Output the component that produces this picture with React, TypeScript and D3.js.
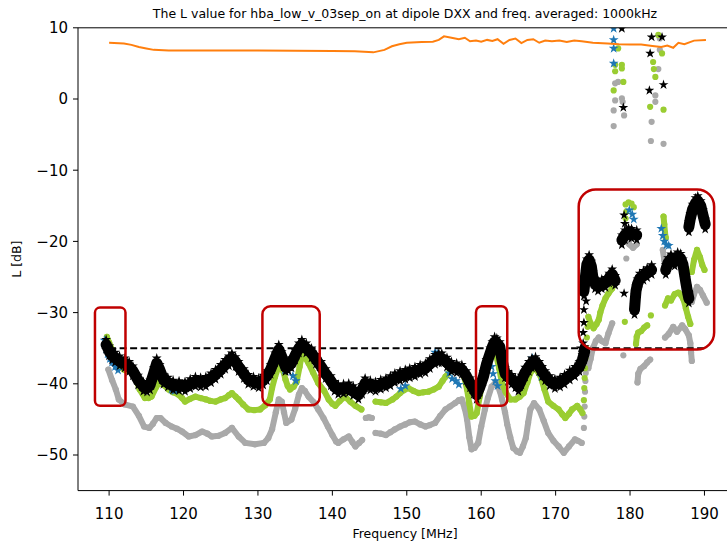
import React from "react";
import * as d3 from "d3";

type Pt = [number, number];

const chartTitle = "The L value for hba_low_v_03sep_on at dipole DXX and freq. averaged: 1000kHz";
const xLabel = "Frequency [MHz]";
const yLabel = "L [dB]";
const xTickValues = [110, 120, 130, 140, 150, 160, 170, 180, 190];
const yTickValues = [-50, -40, -30, -20, -10, 0, 10];
const xDomain: [number, number] = [105.82, 193.7];
const yDomain: [number, number] = [-55, 10];

// dashed reference level
const thresholdLevel = -35;
const thresholdSpan: [number, number] = [110, 190];

// orange curve (freq, L)
const orangeLine: Pt[] = [
  [110, 7.9], [112, 7.8], [113, 7.6], [114, 7.3], [115, 7.1], [116, 6.9], [118, 6.8], [130, 6.8],
  [140, 6.75], [143, 6.7], [145.5, 6.55], [147, 6.9], [148, 7.4], [149, 7.7], [150, 7.9], [152, 8.0],
  [153.5, 8.05], [154.3, 8.3], [155, 8.8], [156, 8.6], [157, 8.4], [157.8, 8.6], [158.5, 8.1],
  [159.3, 8.2], [160, 8.05], [160.8, 8.3], [161.5, 8.15], [162.2, 8.4], [163, 7.75], [163.8, 8.3],
  [164.6, 8.5], [165.4, 7.85], [166.2, 8.3], [167, 8.4], [167.8, 7.9], [168.6, 8.2], [169.5, 8.1],
  [170.5, 8.2], [171.5, 8.0], [172.5, 8.2], [173.5, 8.1], [175, 7.9], [177, 7.8], [178.5, 7.7],
  [180, 7.65], [181.5, 7.65], [183, 7.45], [184.2, 7.3], [185, 7.5], [185.8, 7.2], [186.5, 7.9],
  [187.3, 7.7], [188.6, 8.2], [190.2, 8.3],
];

// gray dots
const grayChains: Pt[][] = [
  [
    [109.9, -38.0], [110.4, -39.5], [110.9, -40.8], [111.3, -42.2], [112.1, -42.9], [113.2, -43.2],
    [114.0, -44.5], [114.7, -46.0], [115.4, -46.2], [115.9, -45.6], [116.4, -44.8], [116.9, -44.8],
    [117.6, -45.5], [118.4, -46.0], [119.1, -46.3], [119.8, -46.7], [120.7, -47.4], [121.6, -47.2],
    [122.5, -46.7], [123.2, -47.0], [123.8, -47.4], [124.7, -47.3], [125.6, -46.9], [126.5, -46.2],
    [127.4, -47.4], [128.3, -48.3], [129.6, -48.5], [130.8, -48.3], [131.4, -47.6], [131.9, -46.4],
    [132.4, -44.0], [132.8, -42.2], [133.2, -42.5], [133.5, -44.0], [133.8, -45.5], [134.5, -45.0],
    [135.0, -43.5], [135.5, -41.5], [135.9, -40.6], [136.3, -41.0], [136.8, -41.8], [137.5, -42.6],
    [138.1, -43.6], [138.8, -44.8], [139.4, -46.0], [140.0, -47.2], [140.5, -48.1], [140.8, -48.3],
    [141.5, -47.8], [142.2, -47.4], [142.7, -48.2], [143.1, -48.8], [143.6, -48.3], [144.0, -47.9],
  ],
  [[144.5, -44.8], [144.9, -44.7], [145.3, -44.8]],
  [
    [145.8, -46.9], [146.5, -47.0], [147.2, -47.2], [147.8, -46.8], [148.4, -46.4], [149.1, -46.0],
    [149.8, -45.7], [150.4, -45.4], [151.1, -45.3], [151.8, -45.7], [152.5, -46.0], [153.1, -45.8],
    [153.8, -45.5], [154.5, -44.5], [155.2, -43.6], [155.8, -43.2], [156.5, -42.7], [157.0, -42.3],
    [157.4, -42.2], [157.8, -43.5], [158.1, -45.0], [158.4, -47.5], [158.7, -49.2], [159.1, -49.0],
    [159.6, -48.3], [160.0, -46.0], [160.5, -43.6], [160.9, -42.0], [161.4, -40.4], [161.8, -40.0],
    [162.1, -40.0], [162.5, -41.0], [162.8, -42.2], [163.2, -44.0], [163.5, -45.7], [163.9, -47.5],
    [164.3, -49.0], [164.8, -49.5], [165.2, -49.7], [165.6, -48.8], [166.0, -47.6], [166.3, -45.5],
    [166.6, -43.6], [167.1, -42.7], [167.8, -43.6], [168.4, -45.2], [169.0, -46.9], [169.7, -48.0],
    [170.4, -48.8], [171.1, -49.7], [171.8, -48.8], [172.6, -47.8], [173.0, -48.0], [173.5, -48.3],
  ],
  [[174.4, -37.8], [174.7, -36.5], [175.0, -35.0], [175.4, -34.0], [175.8, -33.5], [176.2, -34.0], [176.7, -34.3], [177.1, -32.9], [177.6, -31.5]],
  [[181.0, -39.8], [181.1, -38.6], [181.4, -37.9], [181.9, -37.5], [182.3, -37.0], [182.7, -36.6]],
  [[179.5, -19.6], [179.9, -20.4], [180.4, -20.9], [180.9, -20.4]],
  [[184.4, -21.2], [184.6, -22.6], [184.8, -23.9]],
  [[184.7, -33.5], [185.2, -33.0], [185.8, -32.0], [186.3, -32.7], [187.0, -31.8], [187.4, -32.3], [187.9, -33.2], [188.1, -34.3], [188.2, -35.6], [188.3, -36.8]],
  [[188.3, -28.5], [188.6, -27.4], [189.0, -26.4], [189.4, -26.8], [189.8, -27.6], [190.3, -28.6]],
];
const grayDots: Pt[] = [
  [173.8, -46.2], [173.85, -44.6], [173.9, -43.2], [173.95, -41.1], [174.0, -39.6], [174.05, -38.5],
  [174.15, -36.9], [179.1, -36.0], [179.5, -22.4],
  [178.4, 2.4], [178.0, 2.2], [178.0, -0.2], [177.8, -1.6], [178.9, 0.1], [179.0, -0.4], [179.2, -2.3],
  [177.8, -3.8], [184.0, 8.5], [184.0, 6.9], [183.8, 4.2], [183.4, 0.5], [183.4, -0.4], [182.9, -3.2],
  [182.8, -5.9], [184.5, -6.3],
];

// green dots
const greenChains: Pt[][] = [
  [
    [109.7, -33.4], [110.0, -34.2], [110.4, -35.2], [110.8, -36.3], [111.2, -37.0], [111.5, -37.6],
    [112.0, -38.0], [112.4, -38.2], [113.1, -38.2], [113.6, -39.3], [114.1, -40.8], [114.8, -42.0],
    [115.3, -42.0], [115.7, -41.8], [116.3, -40.5], [116.8, -39.7], [117.4, -40.2], [118.0, -40.8],
    [118.6, -41.2], [119.3, -41.5], [119.8, -42.0], [120.2, -42.5], [120.9, -42.1], [121.6, -41.8],
    [122.3, -42.0], [123.0, -42.2], [123.6, -42.4], [124.3, -42.5], [125.0, -42.2], [125.6, -42.0],
    [126.1, -41.6], [126.5, -41.3], [127.0, -41.8], [127.4, -42.2], [128.0, -42.9], [128.7, -43.6],
    [129.5, -43.7], [130.3, -43.6], [131.0, -43.0], [131.6, -42.2], [131.9, -40.6], [132.3, -39.0],
    [132.7, -37.8], [133.0, -37.3], [133.4, -38.2], [133.7, -39.4], [134.0, -40.3], [134.3, -40.8],
    [134.8, -40.4], [135.2, -39.7], [135.6, -37.6], [135.9, -35.9], [136.3, -36.3], [136.8, -37.1],
    [137.4, -38.4], [138.1, -39.9], [138.9, -41.0], [139.5, -42.2], [140.0, -42.8], [140.4, -43.1],
    [141.0, -42.4], [141.7, -41.8], [142.4, -42.5], [143.1, -43.1], [143.9, -43.6],
  ],
  [[144.4, -40.0], [144.8, -39.8], [145.3, -40.0]],
  [
    [145.8, -42.5], [146.5, -42.6], [147.2, -42.7], [148.1, -42.2], [148.6, -41.8], [149.1, -41.3],
    [149.6, -40.9], [150.2, -40.6], [150.9, -41.0], [151.6, -41.3], [152.2, -41.2], [152.9, -41.1],
    [153.6, -40.8], [154.3, -40.4], [154.8, -39.6], [155.2, -39.0], [155.6, -38.5], [156.0, -38.0],
    [156.6, -37.9], [157.2, -37.8], [157.7, -39.0], [158.1, -40.8], [158.4, -42.8], [158.7, -44.6],
    [159.1, -44.5], [159.4, -44.1], [159.8, -41.8], [160.3, -39.0], [160.8, -37.0], [161.4, -35.2],
    [161.7, -35.3], [162.0, -35.9], [162.4, -37.8], [162.8, -39.9], [163.3, -41.2], [163.9, -42.2],
    [164.6, -42.2], [165.2, -41.8], [165.7, -41.3], [166.2, -39.8], [166.6, -38.5], [167.0, -37.9],
    [167.3, -37.8], [168.0, -39.0], [168.5, -40.8], [169.0, -42.5], [169.7, -43.1], [170.4, -43.6],
    [170.9, -44.3], [171.3, -44.8], [171.8, -44.2], [172.2, -43.6], [172.9, -43.1], [173.3, -43.6],
    [173.6, -44.1],
  ],
  [[174.4, -30.6], [174.7, -31.5], [175.1, -32.2], [175.5, -31.6], [175.8, -31.0], [176.0, -30.0], [176.3, -29.0], [176.7, -28.0], [177.1, -27.3], [177.6, -26.6]],
  [[180.8, -34.4], [180.9, -33.4], [181.1, -32.8], [181.5, -32.6], [181.9, -32.1], [182.3, -31.8]],
  [[184.5, -16.5], [184.6, -17.6], [184.7, -18.8], [184.8, -19.5]],
  [[184.7, -29.0], [185.1, -28.0], [185.5, -28.3], [186.0, -27.4], [186.5, -27.2], [186.9, -27.6], [187.2, -28.2], [187.5, -29.4], [187.8, -30.6], [188.1, -31.6]],
  [[188.3, -24.3], [188.6, -22.6], [189.0, -21.2], [189.4, -22.2], [189.7, -23.3], [190.0, -24.0]],
];
const greenDots: Pt[] = [
  [173.8, -42.3], [173.85, -40.6], [173.9, -39.2], [173.95, -37.8], [174.0, -36.4], [174.1, -35.0],
  [174.2, -33.5], [174.3, -32.0], [179.3, -31.3], [182.8, -30.4],
  [179.4, -14.8], [179.8, -14.5], [180.2, -14.7], [180.5, -15.2], [179.5, -15.8], [179.4, -16.8],
  [178.4, 7.1], [178.0, 4.8], [178.9, 4.8], [178.9, 4.3], [178.0, 3.9], [179.1, 2.4], [177.8, 1.2],
  [183.8, 9.0], [183.1, 5.2], [183.2, 4.2], [183.4, 3.1], [184.3, 6.4], [182.7, -1.1], [184.5, -1.5],
];

// blue stars
const blueStars: Pt[] = [
  [109.4, -33.9], [109.6, -34.9], [109.8, -35.8], [110.1, -36.5], [110.4, -37.0], [110.8, -37.6],
  [111.2, -38.1], [118.4, -40.8], [118.8, -41.0], [119.3, -40.8], [119.7, -40.7], [133.0, -36.0],
  [133.3, -37.1], [133.6, -38.1], [134.7, -38.9], [135.1, -39.6], [149.2, -40.7], [149.8, -40.3],
  [153.8, -35.6], [154.1, -35.8], [155.7, -38.5], [156.1, -39.3], [156.6, -39.6], [157.0, -40.1],
  [161.1, -36.6], [161.4, -37.6], [161.6, -38.6], [161.9, -39.6], [162.2, -40.3], [166.9, -36.4],
  [168.1, -39.0],
  [179.9, -15.6], [180.3, -16.2], [180.5, -16.9],
  [184.2, -18.2], [184.4, -19.2], [184.6, -20.0], [184.9, -20.5], [185.2, -20.6],
  [177.8, 9.9], [177.8, 8.3], [177.8, 7.1], [177.8, 5.0],
];

// black stars
const blackChains: Pt[][] = [
  [
    [109.6, -34.5], [110.0, -35.4], [110.4, -36.0], [110.8, -36.3], [111.4, -36.8], [112.1, -37.1],
    [112.7, -37.6], [113.2, -38.2], [113.9, -39.5], [114.6, -40.4], [115.1, -40.5], [115.5, -40.2],
    [116.0, -38.5], [116.4, -37.1], [116.8, -38.0], [117.3, -39.4], [117.9, -39.8], [118.6, -40.2],
    [119.4, -40.3], [120.2, -40.4], [120.9, -40.0], [121.6, -39.7], [122.3, -39.8], [123.0, -39.7],
    [123.7, -39.2], [124.3, -38.7], [125.0, -38.0], [125.6, -37.3], [126.1, -36.8], [126.5, -36.4],
    [127.0, -36.9], [127.4, -37.6], [128.1, -38.6], [128.7, -39.4], [129.4, -39.7], [130.1, -39.9],
    [130.7, -39.5], [131.2, -38.9], [131.7, -38.0], [132.3, -36.4], [132.8, -35.2], [133.2, -36.2],
    [133.7, -37.6], [134.1, -37.5], [134.5, -37.1], [135.0, -36.0], [135.5, -35.0], [135.9, -34.5],
    [136.5, -35.0], [137.2, -35.7], [137.8, -36.6], [138.5, -37.6], [139.1, -38.6], [139.8, -39.6],
    [140.3, -40.4], [140.8, -40.8], [141.5, -40.7], [142.2, -40.6], [142.8, -41.0], [143.5, -41.5],
    [144.0, -40.8], [144.4, -39.9], [145.1, -40.2], [145.8, -40.4], [146.5, -40.1], [147.2, -39.9],
    [147.8, -39.6], [148.4, -39.2], [149.1, -38.9], [149.8, -38.7], [150.4, -38.5], [151.1, -38.3],
    [151.8, -38.0], [152.5, -37.8], [153.1, -37.2], [153.8, -36.6], [154.3, -36.4], [154.7, -36.4],
    [155.4, -37.0], [156.0, -37.6], [156.7, -37.8], [157.4, -38.0], [158.0, -38.9], [158.5, -39.9],
    [159.0, -40.8], [159.4, -41.5], [159.8, -40.5], [160.3, -39.0], [160.7, -37.3], [161.2, -35.7],
    [161.5, -34.8], [161.8, -34.1], [162.1, -34.3], [162.5, -34.8], [162.8, -36.7], [163.2, -38.5],
    [163.6, -39.0], [164.1, -39.4], [164.6, -39.9], [165.0, -40.4], [165.4, -39.5], [165.9, -38.4],
    [166.4, -37.6], [166.8, -37.1], [167.3, -36.9], [167.8, -37.6], [168.2, -38.3], [168.6, -38.9],
    [169.2, -39.6], [169.9, -40.0], [170.6, -39.8], [171.2, -39.4], [171.9, -38.8], [172.6, -38.3],
    [173.2, -37.6], [173.6, -36.6], [173.9, -35.5],
  ],
  [[173.8, -27.0], [174.0, -25.0], [174.2, -23.2], [174.5, -22.6], [174.8, -23.5], [175.0, -25.0], [175.3, -26.0], [175.7, -26.3], [176.2, -26.0], [176.7, -25.8], [177.2, -25.2], [177.6, -24.6], [178.0, -25.5]],
  [[180.6, -29.6], [180.7, -28.2], [180.8, -27.0], [181.0, -26.0], [181.3, -25.2], [181.8, -24.8], [182.3, -24.4], [182.9, -24.0]],
  [[184.8, -24.0], [185.1, -23.0], [185.5, -22.5], [186.0, -22.8], [186.4, -22.2], [186.8, -22.4], [187.1, -23.2], [187.3, -24.5], [187.5, -25.8], [187.7, -27.0], [187.9, -28.0]],
  [[187.9, -18.0], [188.1, -16.8], [188.4, -15.5], [188.8, -14.6], [189.1, -14.3], [189.5, -15.0], [189.8, -16.3], [190.1, -17.6]],
  [[178.9, -19.8], [179.3, -19.1], [179.8, -18.8], [180.2, -18.9], [180.9, -19.1]],
];
const blackStars: Pt[] = [
  [173.4, -35.0], [173.7, -34.3], [173.7, -32.8], [173.8, -31.4], [173.8, -29.6], [174.1, -28.4],
  [179.2, -27.3], [179.2, -16.3], [179.3, -17.5],
  [178.9, 9.9], [179.1, -1.2], [182.9, 8.7], [184.3, 8.7], [182.7, 6.4], [184.5, 2.0], [182.6, 1.2],
];

// highlighted regions (freq range, level range)
const boxFreqs: Pt[] = [[108.1, 112.2], [130.6, 138.3], [159.3, 163.5], [173.1, 191.3]];
const boxLevels: Pt[] = [[-29.3, -43.1], [-29.1, -43.0], [-29.1, -43.1], [-12.7, -35.2]];
const boxRadii = [5, 8, 6, 17];

export default function App() {
  const width = 727;
  const height = 545;
  const left = 78;
  const right = 732;
  const top = 27.8;
  const bottom = 490.6;
  const font = "DejaVu Sans, sans-serif";

  const x = d3.scaleLinear().domain(xDomain).range([left, right]);
  const y = d3.scaleLinear().domain(yDomain).range([bottom, top]);
  const line = d3.line<Pt>().x((d) => x(d[0])).y((d) => y(d[1]));
  const star = d3.symbol().type(d3.symbolStar).size(30)() as string;
  const starOffsets = [-5, 0, 5];

  const dotColor = { gray: "#a9a9a9", green: "#9acd32" };

  const dotSeries = (chains: Pt[][], dots: Pt[], color: string, key: string) => (
    <g key={key}>
      {chains.map((c, i) => (
        <path key={i} d={line(c) ?? ""} fill="none" stroke={color} strokeWidth={6}
          strokeLinejoin="round" strokeLinecap="round" />
      ))}
      {chains.flat().concat(dots).map((d, i) => (
        <circle key={i} cx={x(d[0])} cy={y(d[1])} r={3.1} fill={color} />
      ))}
    </g>
  );

  return (
    <svg width={width} height={height} style={{ position: "absolute", left: 0, top: 0, background: "#fff" }}>
      <defs>
        <clipPath id="plotclip">
          <rect x={left} y={top} width={right - left} height={bottom - top} />
        </clipPath>
      </defs>
      <rect x={0} y={0} width={width} height={height} fill="#fff" />

      <g clipPath="url(#plotclip)">
        {dotSeries(grayChains, grayDots, dotColor.gray, "gray")}
        {dotSeries(greenChains, greenDots, dotColor.green, "green")}

        <g fill="#1f77b4">
          {blueStars.map((d, i) => (
            <path key={i} d={star} transform={`translate(${x(d[0])},${y(d[1])})`} />
          ))}
        </g>

        <g>
          {blackChains.map((c, i) => (
            <path key={i} d={line(c) ?? ""} fill="none" stroke="#000" strokeWidth={11}
              strokeLinejoin="round" strokeLinecap="round" />
          ))}
          {blackChains.flat().flatMap((d, i) =>
            starOffsets.map((o, j) => (
              <path key={`${i}-${j}`} d={star} fill="#000"
                transform={`translate(${x(d[0])},${y(d[1]) + o})`} />
            ))
          )}
          {blackStars.map((d, i) => (
            <path key={`s${i}`} d={star} fill="#000" transform={`translate(${x(d[0])},${y(d[1])})`} />
          ))}
        </g>

        <path d={line(orangeLine) ?? ""} fill="none" stroke="#ff7f0e" strokeWidth={2} />

        <line x1={x(thresholdSpan[0])} x2={x(thresholdSpan[1])} y1={y(thresholdLevel)} y2={y(thresholdLevel)}
          stroke="#000" strokeWidth={2} strokeDasharray="7,3.5" />

        {boxFreqs.map((f, i) => (
          <rect key={i} x={x(f[0])} y={y(boxLevels[i][0])} width={x(f[1]) - x(f[0])}
            height={y(boxLevels[i][1]) - y(boxLevels[i][0])} rx={boxRadii[i]} ry={boxRadii[i]}
            fill="none" stroke="#c00000" strokeWidth={2.5} />
        ))}
      </g>

      {/* spines */}
      <path d={`M${right},${top}H${left}V${bottom}H${right}`} fill="none" stroke="#000" strokeWidth={1} />

      {/* x axis */}
      {xTickValues.map((t) => (
        <g key={t} transform={`translate(${x(t)},${bottom})`}>
          <line y2={5} stroke="#000" strokeWidth={1} />
          <text y={28} textAnchor="middle" fontFamily={font} fontSize={15} fill="#000">{t}</text>
        </g>
      ))}
      <text x={405} y={538} textAnchor="middle" fontFamily={font} fontSize={12.5} fill="#000">{xLabel}</text>

      {/* y axis */}
      {yTickValues.map((t) => (
        <g key={t} transform={`translate(${left},${y(t)})`}>
          <line x2={-5} stroke="#000" strokeWidth={1} />
          <text x={-10} dy="0.36em" textAnchor="end" fontFamily={font} fontSize={15} fill="#000">
            {t < 0 ? `\u2212${Math.abs(t)}` : t}
          </text>
        </g>
      ))}
      <text transform={`translate(21,${(top + bottom) / 2}) rotate(-90)`} textAnchor="middle"
        fontFamily={font} fontSize={12.5} fill="#000">{yLabel}</text>

      <text x={405} y={18} textAnchor="middle" fontFamily={font} fontSize={12.5} fill="#000">{chartTitle}</text>
    </svg>
  );
}
